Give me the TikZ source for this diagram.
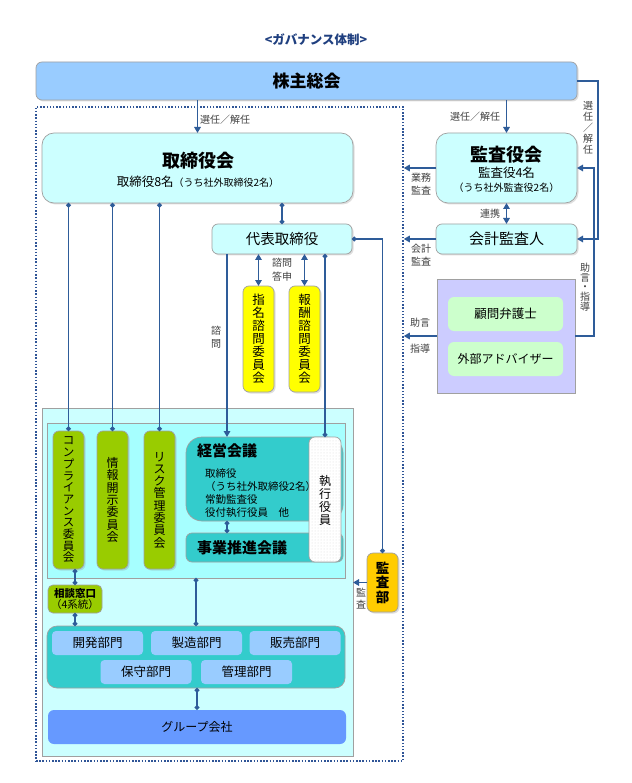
\documentclass[tikz,border=0pt]{standalone}
\usepackage{fontspec}
\setmainfont{Noto Sans CJK JP}
\usetikzlibrary{arrows.meta,shadows,patterns,calc}
\definecolor{ln}{HTML}{2E5C99}
\definecolor{dotc}{HTML}{2F5597}
\definecolor{titc}{HTML}{1F3F7F}
\definecolor{bord}{HTML}{A0A0A0}
\definecolor{labc}{HTML}{404040}
\definecolor{cKabu}{HTML}{99CCFF}
\definecolor{cCy}{HTML}{CCFFFF}
\definecolor{cIn}{HTML}{A6FFFF}
\definecolor{cTeal}{HTML}{33CCCC}
\definecolor{cGr}{HTML}{99CC00}
\definecolor{cYel}{HTML}{FFFF00}
\definecolor{cOr}{HTML}{FFCC00}
\definecolor{cPur}{HTML}{CCCCFF}
\definecolor{cLg}{HTML}{CCFFCC}
\definecolor{cDept}{HTML}{99CCFF}
\definecolor{cGrp}{HTML}{6699FF}
\begin{document}
\begin{tikzpicture}[x=1pt,y=-1pt,
  box/.style={draw=bord, line width=0.7pt, inner sep=0pt, outer sep=0pt},
  shad/.style={drop shadow={opacity=0.25, shadow xshift=1.5pt, shadow yshift=-1.5pt}},
  conn/.style={draw=ln, line width=1.8pt},
  arr/.style={conn, -{Triangle[length=6pt,width=6.5pt]}},
  darr/.style={conn, {Triangle[length=6pt,width=6.5pt]}-{Triangle[length=6pt,width=6.5pt]}},
  dd/.style={conn, {Circle[length=4.5pt]}-{Circle[length=4.5pt]}},
  lab/.style={font=\fontsize{10}{12.5}\selectfont, text=labc, align=center, inner sep=0pt},
  vcom/.style={box, shad, rounded corners=6pt, align=center, minimum width=31pt},
]
\useasboundingbox (0,0) rectangle (631,783);
\fill[white] (0,0) rectangle (631,783);

% title
\node[font=\fontsize{12.5}{14}\selectfont\bfseries, text=titc] (title) at (316,40) {<ガバナンス体制>};

% dotted control frame
\node[draw=dotc, line width=1.5pt, dash pattern=on 1.5pt off 1.7pt, minimum width=367pt, minimum height=654pt, inner sep=0pt] (ctl) at (219.5,434) {};

% shareholders
\node[box, shad, fill=cKabu, rounded corners=6pt, minimum width=541pt, minimum height=38pt, font=\fontsize{17}{20}\selectfont\bfseries] (kabu) at (306.5,81) {株主総会};

% board
\node[box, shad, fill=cCy, rounded corners=12pt, minimum width=311pt, minimum height=70pt] (tori) at (197.5,168) {};
\node[font=\fontsize{18}{20}\selectfont\bfseries, inner sep=0pt] (toriT) at (198,161) {取締役会};
\node[font=\fontsize{12.5}{14}\selectfont, inner sep=0pt] (toriS) at (198,182) {取締役8名{\fontsize{10}{12}\selectfont（うち社外取締役2名）}};

% auditors board
\node[box, shad, fill=cCy, rounded corners=12pt, minimum width=141pt, minimum height=70pt] (kansa) at (506.5,168) {};
\node[font=\fontsize{18}{20}\selectfont\bfseries, inner sep=0pt] (kansaT) at (506.5,155) {監査役会};
\node[font=\fontsize{12.5}{14}\selectfont, inner sep=0pt] (kansaS) at (506.5,173) {監査役4名};
\node[font=\fontsize{10}{12}\selectfont, inner sep=0pt] (kansaS2) at (506.5,188) {（うち社外監査役2名）};

% accounting auditor
\node[box, shad, fill=cCy, rounded corners=6pt, minimum width=141pt, minimum height=30pt, font=\fontsize{15}{17}\selectfont] (kaikei) at (506.5,239) {会計監査人};

% representative director
\node[box, shad, fill=cCy, rounded corners=6pt, minimum width=140pt, minimum height=30pt, font=\fontsize{14.5}{17}\selectfont] (daihyo) at (282,239) {代表取締役};

% advisory committees
\node[vcom, fill=cYel, minimum height=106pt, font=\fontsize{12.5}{13}\selectfont] (shimei) at (258.5,339) {指\\名\\諮\\問\\委\\員\\会};
\node[vcom, fill=cYel, minimum height=106pt, font=\fontsize{12.5}{13}\selectfont] (hoshu) at (304.5,339) {報\\酬\\諮\\問\\委\\員\\会};

% advisors
\node[box, fill=cPur, minimum width=138pt, minimum height=114pt] (adv) at (506,336) {};
\node[fill=cLg, rounded corners=6pt, inner sep=0pt, minimum width=115pt, minimum height=34pt, font=\fontsize{12.5}{14}\selectfont] (bengo) at (505.5,314) {顧問弁護士};
\node[fill=cLg, rounded corners=6pt, inner sep=0pt, minimum width=115pt, minimum height=34pt, font=\fontsize{12}{14}\selectfont] (gaibu) at (505.5,359) {外部アドバイザー};

% execution area
\node[box, fill=cCy, minimum width=311pt, minimum height=348pt] (outer) at (197.5,582) {};
\node[box, fill=cIn, minimum width=298pt, minimum height=155pt] (inner) at (196,500.5) {};

\node[vcom, fill=cGr, minimum height=138pt, font=\fontsize{11.5}{11.7}\selectfont] (comp) at (68.5,500) {コ\\ン\\プ\\ラ\\イ\\ア\\ン\\ス\\委\\員\\会};
\node[vcom, fill=cGr, minimum height=138pt, font=\fontsize{12}{12.3}\selectfont] (joho) at (112.5,500) {情\\報\\開\\示\\委\\員\\会};
\node[vcom, fill=cGr, minimum height=138pt, font=\fontsize{12}{12.3}\selectfont] (risk) at (159.5,500) {リ\\ス\\ク\\管\\理\\委\\員\\会};

\node[box, fill=cTeal, rounded corners=16pt, minimum width=157pt, minimum height=84pt] (keiei) at (264.5,479) {};
\node[anchor=west, inner sep=0pt, font=\fontsize{15}{17}\selectfont\bfseries] (keieiT) at (197,451) {経営会議};
\node[anchor=west, align=left, inner sep=0pt, font=\fontsize{10.5}{13}\selectfont] (keieiB) at (205,493.5) {取締役\\（うち社外取締役2名）\\常勤監査役\\役付執行役員　他};

\node[box, fill=cTeal, rounded corners=6pt, minimum width=157pt, minimum height=29pt] (jigyo) at (264.5,547.5) {};
\node[inner sep=0pt, font=\fontsize{15}{17}\selectfont\bfseries] (jigyoT) at (242,548) {事業推進会議};

\node[box, fill=white, postaction={pattern=dots, pattern color=black!15}, rounded corners=6pt, minimum width=32pt, minimum height=125pt] (shikko) at (325,499.5) {};
\node[align=center, inner sep=0pt, font=\fontsize{12}{13}\selectfont] (shikkoT) at (325,500) {執\\行\\役\\員};

% internal audit
\node[vcom, fill=cOr, minimum height=59pt, font=\fontsize{13.5}{14.5}\selectfont\bfseries] (kansabu) at (382.5,582.5) {監\\査\\部};

% consultation desk
\node[box, fill=cGr, rounded corners=5pt, minimum width=54pt, minimum height=28pt, align=center, font=\fontsize{10.5}{11.5}\selectfont] (sodan) at (75,599) {\textbf{相談窓口}\\（4系統）};

% departments
\node[box, fill=cTeal, rounded corners=10pt, minimum width=298pt, minimum height=62pt] (bumon) at (196,657) {};
\node[fill=cDept, rounded corners=4pt, inner sep=0pt, minimum width=91pt, minimum height=24pt, font=\fontsize{12.5}{14}\selectfont] (kaihatsu) at (97.5,643) {開発部門};
\node[fill=cDept, rounded corners=4pt, inner sep=0pt, minimum width=91pt, minimum height=24pt, font=\fontsize{12.5}{14}\selectfont] (seizo) at (196.5,643) {製造部門};
\node[fill=cDept, rounded corners=4pt, inner sep=0pt, minimum width=91pt, minimum height=24pt, font=\fontsize{12.5}{14}\selectfont] (hanbai) at (295,643) {販売部門};
\node[fill=cDept, rounded corners=4pt, inner sep=0pt, minimum width=91pt, minimum height=24pt, font=\fontsize{12.5}{14}\selectfont] (hoshubu) at (146,672) {保守部門};
\node[fill=cDept, rounded corners=4pt, inner sep=0pt, minimum width=91pt, minimum height=24pt, font=\fontsize{12.5}{14}\selectfont] (kanri) at (246.5,672) {管理部門};

\node[fill=cGrp, rounded corners=6pt, inner sep=0pt, minimum width=298pt, minimum height=34pt, font=\fontsize{12}{14}\selectfont] (group) at (197,727) {グループ会社};

% ---------- connectors ----------
\draw[arr] (tori.north |- kabu.south) -- (tori.north);
\draw[arr] (kansa.north |- kabu.south) -- (kansa.north);
\draw[arr] (kabu.east) -- ++(21,0) |- (kaikei.east);
\draw[arr] (adv.east) -- ++(19,0) |- (kansa.east);
\draw[arr] (kansa.west) -- (kansa.west -| ctl.east);
\draw[arr] (kaikei.west) -- (kaikei.west -| ctl.east);
\draw[arr] (adv.west) -- (adv.west -| ctl.east);
\draw[darr] (kansa.south) -- (kaikei.north);

\draw[dd] (daihyo.north |- tori.south) -- (daihyo.north);
\draw[dd] (daihyo.east) -| (kansabu.north);
\draw[darr] (shimei.north |- daihyo.south) -- (shimei.north);
\draw[darr] (hoshu.north |- daihyo.south) -- (hoshu.north);
\coordinate (kl) at ([xshift=-55pt]daihyo.south);
\draw[arr] (kl) -- (kl |- keiei.north);
\draw[dd] (shikko.north |- daihyo.south) -- (shikko.north);

\draw[dd] (comp.north |- tori.south) -- (comp.north);
\draw[dd] (joho.north |- tori.south) -- (joho.north);
\draw[dd] (risk.north |- tori.south) -- (risk.north);

\draw[dd] (kl |- keiei.south) -- (kl |- jigyo.north);
\draw[dd] (sodan.north |- comp.south) -- (sodan.north);
\draw[dd] (sodan.south) -- (sodan.south |- bumon.north);
\draw[dd] (inner.south) -- (inner.south |- bumon.north);
\draw[dd] (group.north |- bumon.south) -- (group.north);
\draw[arr] (kansabu.west) -- (kansabu.west -| outer.east);

% ---------- labels ----------
\node[lab, anchor=west] (l1) at (200,120) {選任／解任};
\node[lab] (l2) at (475,117) {選任／解任};
\node[lab, font=\fontsize{10}{11}\selectfont] (l3) at (588,128) {選\\任\\／\\解\\任};
\node[lab] (l4) at (421,184) {業務\\監査};
\node[lab] (l5) at (490,214) {連携};
\node[lab] (l6) at (421,255) {会計\\監査};
\node[lab] (l7) at (420,323) {助言};
\node[lab] (l8) at (420,349) {指導};
\node[lab, font=\fontsize{10}{9.6}\selectfont] (l9) at (585,287) {助\\言\\・\\指\\導};
\node[lab, font=\fontsize{10}{14}\selectfont] (l10) at (282,270) {諮問\\答申};
\node[lab, font=\fontsize{10}{13}\selectfont] (l11) at (216,337) {諮\\問};
\node[lab, font=\fontsize{10}{12}\selectfont] (l12) at (361,599) {監\\査};
\end{tikzpicture}
\end{document}
